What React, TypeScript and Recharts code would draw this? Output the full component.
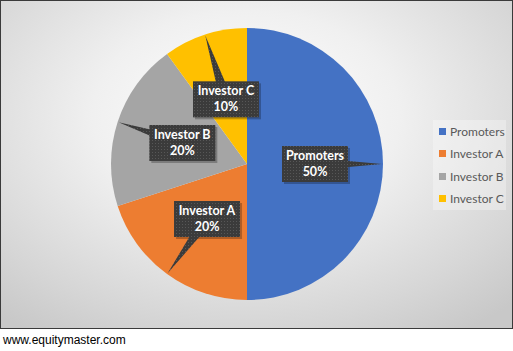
import React from 'react';
import { PieChart, Pie, Cell, Legend } from 'recharts';

const holders = ['Promoters', 'Investor A', 'Investor B', 'Investor C'];
const shares = [50, 20, 20, 10];
const colors = ['#4472C4', '#ED7D31', '#A5A5A5', '#FFC000'];

const data = holders.map((name, i) => ({ name, value: shares[i] }));

const RADIAN = Math.PI / 180;

function CalloutLabel(props: any) {
  const { cx, cy, midAngle, outerRadius, index, name, value } = props;
  const cos = Math.cos(-midAngle * RADIAN);
  const sin = Math.sin(-midAngle * RADIAN);
  const bx = cx + outerRadius * 0.5 * cos;
  const by = cy + outerRadius * 0.5 * sin;
  const tx = cx + (outerRadius - 1) * cos;
  const ty = cy + (outerRadius - 1) * sin;
  const w = 66;
  const h = 36;
  // base of the pointer, perpendicular to the direction of the tip
  const px = -sin * 6;
  const py = cos * 6;
  const pid = 'dots' + index;
  return (
    <g>
      <defs>
        <pattern id={pid} width="3" height="3" patternUnits="userSpaceOnUse">
          <rect width="3" height="3" fill="#3b3b3b" />
          <rect x="1" y="1" width="1" height="1" fill="#575757" />
        </pattern>
      </defs>
      <rect x={bx - w / 2 + 2} y={by - h / 2 + 2} width={w} height={h} fill="#000" opacity={0.25} />
      <path
        d={`M${bx + px},${by + py} L${tx},${ty} L${bx - px},${by - py} Z`}
        fill={`url(#${pid})`}
      />
      <rect x={bx - w / 2} y={by - h / 2} width={w} height={h} fill={`url(#${pid})`} />
      <text
        x={bx}
        y={by - 4}
        textAnchor="middle"
        fill="#fff"
        fontFamily="Lato"
        fontWeight="bold"
        fontSize={12.5}
      >
        {name}
      </text>
      <text
        x={bx}
        y={by + 12}
        textAnchor="middle"
        fill="#fff"
        fontFamily="Lato"
        fontWeight="bold"
        fontSize={12.5}
      >
        {value}%
      </text>
    </g>
  );
}

function LegendBox() {
  return (
    <div
      style={{
        background: 'rgba(255,255,255,0.3)',
        width: 73,
        padding: '0 0 0 6px',
        boxSizing: 'border-box',
        fontFamily: 'Lato',
        fontSize: 12,
        color: '#595959',
      }}
    >
      {holders.map((h, i) => (
        <div key={h} style={{ display: 'flex', alignItems: 'center', height: 22.5 }}>
          <span style={{ width: 7, height: 7, background: colors[i], marginRight: 4 }} />
          {h}
        </div>
      ))}
    </div>
  );
}

export default function App() {
  return (
    <div style={{ position: 'absolute', left: 0, top: 0, width: 513, height: 351, background: '#fff' }}>
      <div
        style={{
          width: 511,
          height: 327,
          border: '1px solid #3a3a3a',
          background:
            'radial-gradient(ellipse 75% 80% at 48% 35%, #ffffff 0%, #f0f0f0 40%, #d6d6d6 80%, #c8c8c8 100%)',
        }}
      >
        <PieChart width={511} height={327}>
          <Pie
            data={data}
            dataKey="value"
            nameKey="name"
            cx={241}
            cy={158}
            outerRadius={136}
            startAngle={90}
            endAngle={-270}
            stroke="none"
            labelLine={false}
            label={CalloutLabel}
            isAnimationActive={false}
          >
            {data.map((d, i) => (
              <Cell key={d.name} fill={colors[i]} />
            ))}
          </Pie>
          <Legend
            layout="vertical"
            align="right"
            verticalAlign="middle"
            content={LegendBox}
            wrapperStyle={{ right: 6, top: 119, left: 'auto' }}
          />
        </PieChart>
      </div>
      <div
        style={{
          position: 'absolute',
          left: 3,
          top: 333,
          fontFamily: 'Liberation Sans',
          fontSize: 12,
          color: '#000',
        }}
      >
        www.equitymaster.com
      </div>
    </div>
  );
}
